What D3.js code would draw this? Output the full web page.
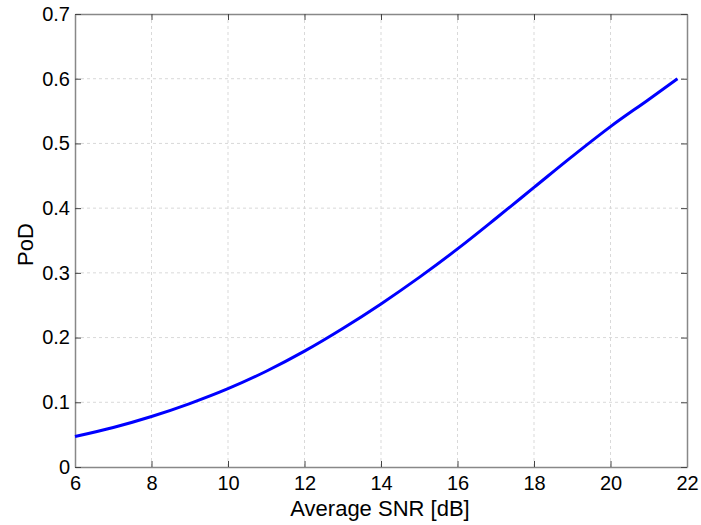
<!DOCTYPE html>
<html><head><meta charset="utf-8">
<script src="https://cdn.jsdelivr.net/npm/d3@7"></script>
<style>body{margin:0;background:#fff}</style>
</head><body>
<svg id="c" width="701" height="525"></svg>
<script>
const snr = [6, 7, 8, 9, 10, 11, 12, 13, 14, 15, 16, 17, 18, 19, 20, 21, 21.75];
const pod = [0.047, 0.061, 0.078, 0.098, 0.121, 0.148, 0.179, 0.214, 0.252, 0.293, 0.337, 0.384, 0.432, 0.480, 0.526, 0.568, 0.600];
const xTicks = [6, 8, 10, 12, 14, 16, 18, 20, 22];
const yTicks = [0, 0.1, 0.2, 0.3, 0.4, 0.5, 0.6, 0.7];
const xTitle = "Average SNR [dB]";
const yTitle = "PoD";

const svg = d3.select("#c");
const L = 75, R = 687, T = 14, B = 467;
const x = d3.scaleLinear().domain([6, 22]).range([L, R]);
const y = d3.scaleLinear().domain([0, 0.7]).range([B, T]);
const font = "Liberation Sans, Arial, sans-serif";

// grid
const g = svg.append("g");
g.selectAll(".gx").data(xTicks.slice(1, -1)).join("line")
  .attr("x1", d => x(d)).attr("x2", d => x(d)).attr("y1", T).attr("y2", B)
  .attr("stroke", "#d9d9d9").attr("stroke-width", 1).attr("stroke-dasharray", "3,3");
g.selectAll(".gy").data(yTicks.slice(1, -1)).join("line")
  .attr("y1", d => y(d)).attr("y2", d => y(d)).attr("x1", L).attr("x2", R)
  .attr("stroke", "#d9d9d9").attr("stroke-width", 1).attr("stroke-dasharray", "3,3");

// axes
const axB = svg.append("g").attr("transform", `translate(0,${B})`)
  .call(d3.axisBottom(x).tickValues(xTicks).tickSizeInner(-6).tickSizeOuter(0).tickPadding(7).tickFormat(d3.format("d")));
const axT = svg.append("g").attr("transform", `translate(0,${T})`)
  .call(d3.axisTop(x).tickValues(xTicks).tickSizeInner(-6).tickSizeOuter(0).tickFormat(""));
const axL = svg.append("g").attr("transform", `translate(${L},0)`)
  .call(d3.axisLeft(y).tickValues(yTicks).tickSizeInner(-6).tickSizeOuter(0).tickPadding(5).tickFormat(d => d === 0 ? "0" : d3.format(".1f")(d)));
const axR = svg.append("g").attr("transform", `translate(${R},0)`)
  .call(d3.axisRight(y).tickValues(yTicks).tickSizeInner(-6).tickSizeOuter(0).tickFormat(""));
[axB, axT, axL, axR].forEach(a => {
  a.attr("font-size", 20).attr("font-family", font);
  a.select(".domain").attr("stroke", "#888").attr("stroke-width", 1.5);
  a.selectAll(".tick line").attr("stroke", "#444");
  a.selectAll("text").attr("font-family", font).attr("font-size", 20).attr("fill", "#000");
});
axB.selectAll("text").attr("dy", "0.78em");

// line
svg.append("path").datum(snr.map((s, i) => [s, pod[i]]))
  .attr("d", d3.line().x(d => x(d[0])).y(d => y(d[1])).curve(d3.curveMonotoneX))
  .attr("fill", "none").attr("stroke", "#0000ff").attr("stroke-width", 3);

// titles
svg.append("text").attr("x", (L + R) / 2 - 1).attr("y", 516).attr("text-anchor", "middle")
  .attr("font-family", font).attr("font-size", 22).text(xTitle);
svg.append("text").attr("transform", `translate(33,${(T + B) / 2 + 4}) rotate(-90)`).attr("text-anchor", "middle")
  .attr("font-family", font).attr("font-size", 22).text(yTitle);
</script>
</body></html>
